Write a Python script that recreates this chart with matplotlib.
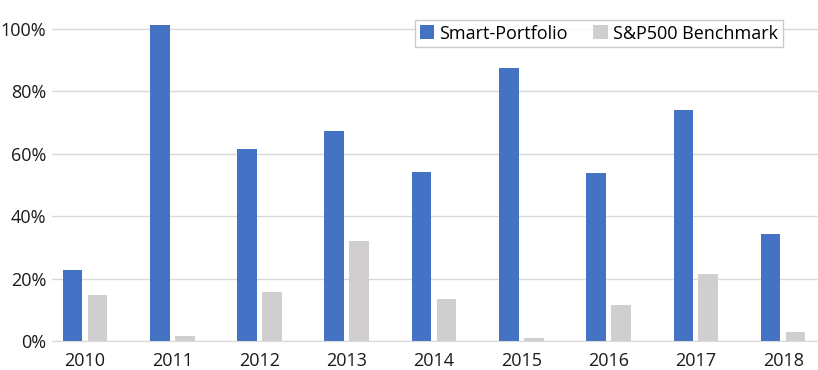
import matplotlib.pyplot as plt
import numpy as np
from matplotlib.ticker import PercentFormatter

plt.rcParams['font.family'] = ['Open Sans', 'DejaVu Sans']

# Yearly returns (%)
years = ['2010', '2011', '2012', '2013', '2014', '2015', '2016', '2017', '2018']
smart = [22.8, 101.3, 61.5, 67.3, 54.2, 87.5, 53.8, 74.0, 34.3]
bench = [14.7, 1.6, 15.7, 32.0, 13.5, 1.0, 11.5, 21.5, 2.9]

fig = plt.figure(figsize=(8.18, 3.70), dpi=100)
ax = fig.add_axes([52 / 818, 29 / 370, 766 / 818, 341 / 370])

x = np.arange(len(years))
w = 0.225
ax.bar(x - 0.143, smart, w, color='#4472C4', label='Smart-Portfolio', zorder=2)
ax.bar(x + 0.143, bench, w, color='#D0CECE', label='S&P500 Benchmark', zorder=2)

# the chart is cut off a little on the right
ax.set_xlim(-0.378, 8.40)
ax.set_ylim(0, 109.3)
ax.set_yticks([0, 20, 40, 60, 80, 100])
ax.yaxis.set_major_formatter(PercentFormatter(decimals=0))
ax.set_xticks(x)
ax.set_xticklabels(years)
ax.tick_params(axis='both', length=0, labelsize=13, colors='#1a1a1a')
ax.tick_params(axis='y', pad=4)
ax.tick_params(axis='x', pad=8)

ax.grid(axis='y', color='#D9D9D9', linewidth=1, zorder=0)
for s in ['top', 'right', 'left']:
    ax.spines[s].set_visible(False)
ax.spines['bottom'].set_color('#D9D9D9')

leg = ax.legend(loc='upper left', ncol=2, fontsize=13, frameon=True, fancybox=False,
                handlelength=0.8, handleheight=0.8, columnspacing=1.4, handletextpad=0.3,
                borderpad=0.25, borderaxespad=0)
leg.set_bbox_to_anchor((415 / 818, 1 - 20 / 370), transform=fig.transFigure)
leg.get_frame().set_edgecolor('#BFBFBF')
leg.get_frame().set_linewidth(1)
leg.set_zorder(5)

plt.savefig('out.png', dpi=100)
